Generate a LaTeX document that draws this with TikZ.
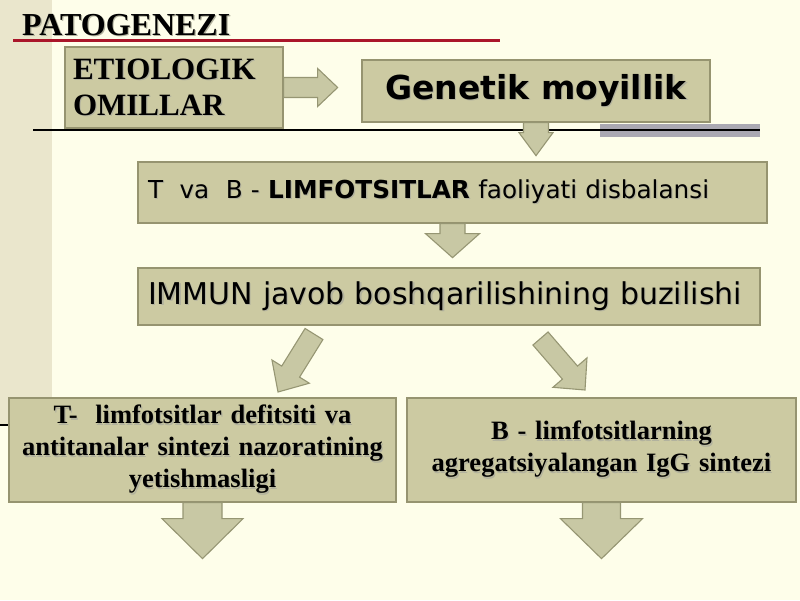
\documentclass[tikz,border=0pt]{standalone}
\usepackage{fontspec}
\setmainfont{Liberation Serif}
\newfontfamily\dvs{DejaVu Sans}
\usetikzlibrary{calc}
\definecolor{bgc}{RGB}{254,254,234}
\definecolor{stripc}{RGB}{234,230,204}
\definecolor{boxf}{RGB}{204,202,162}
\definecolor{boxd}{RGB}{150,148,112}
\definecolor{arrf}{RGB}{200,200,164}
\definecolor{arrd}{RGB}{150,150,115}
\definecolor{redl}{RGB}{170,22,42}
\definecolor{barg}{RGB}{170,168,178}
\definecolor{shadc}{RGB}{178,178,158}
\newcommand\shd[1]{\makebox[0pt][l]{\hspace{1.2pt}\raisebox{-1.2pt}{\color{shadc}#1}}#1}
\tikzset{
  box/.style={draw=boxd, fill=boxf, line width=1.3pt, inner sep=0pt},
  arrowshape/.style={draw=arrd, fill=arrf, line width=1.1pt, line join=miter},
  serifbig/.style={font=\bfseries\fontsize{31}{36}\selectfont},
  serifmid/.style={font=\bfseries\fontsize{26.5}{32}\selectfont},
}
\newcommand\blockarr[5]{%
  \coordinate (ba-s) at (#1);
  \coordinate (ba-e) at (#2);
  \coordinate (ba-h) at ($(ba-e)!#5pt!(ba-s)$);
  \filldraw[arrowshape] ($(ba-s)!#3pt!90:(ba-e)$) -- ($(ba-h)!#3pt!90:(ba-e)$)
    -- ($(ba-h)!#4pt!90:(ba-e)$) -- (ba-e) -- ($(ba-h)!#4pt!-90:(ba-e)$)
    -- ($(ba-h)!#3pt!-90:(ba-e)$) -- ($(ba-s)!#3pt!-90:(ba-e)$) -- cycle;
}
\begin{document}
\begin{tikzpicture}[x=1pt, y=-1pt]
\useasboundingbox (0,0) rectangle (800,600);
\fill[bgc] (0,0) rectangle (800,600);
\fill[stripc] (0,0) rectangle (52,425);
\draw[black, line width=2pt] (0,425) -- (30,425);
\fill[barg] (600,124) rectangle (760,137);
\draw[black, line width=1.3pt] (33,130) -- (760,130);
\draw[redl, line width=3pt] (13,40) -- (500,40);
\node[anchor=base west, inner sep=0pt, font=\bfseries\fontsize{32}{36}\selectfont] (title) at (22,35) {\shd{PATOGENEZI}};

\node[box, serifbig, minimum width=218pt, minimum height=81pt, text width=202pt, align=left] (etio) at (174,87.5) {\shd{ETIOLOGIK}\\\shd{OMILLAR}};
\node[box, minimum width=348pt, minimum height=62pt, font=\dvs\bfseries\fontsize{33}{38}\selectfont] (gen) at (536,91) {\shd{Genetik moyillik}};
\node[box, minimum width=629pt, minimum height=61pt, text width=609pt, align=left, font=\dvs\fontsize{24.7}{28}\selectfont] (tvb) at (452.5,192.5) {\shd{T\ \ va\ \ B - \textbf{LIMFOTSITLAR} faoliyati disbalansi}};
\node[box, minimum width=622pt, minimum height=57pt, text width=602pt, align=left, font=\dvs\fontsize{30}{34}\selectfont] (immun) at (449,296.5) {\shd{IMMUN javob boshqarilishining buzilishi}};
\node[box, serifmid, minimum width=387pt, minimum height=104pt, text width=380pt, align=center] (bl) at (202.5,450) {\shd{T-\ \ limfotsitlar defitsiti va}\\\shd{antitanalar sintezi nazoratining}\\\shd{yetishmasligi}};
\node[box, serifmid, minimum width=389pt, minimum height=104pt, text width=380pt, align=center] (br) at (601.5,450) {\shd{B - limfotsitlarning}\\\shd{agregatsiyalangan IgG sintezi}};

\blockarr{etio.east}{$(etio.east)+(54,0)$}{10}{19}{20}
\blockarr{gen.south}{$(gen.south)+(0,33)$}{12.5}{17}{23}
\blockarr{tvb.south}{$(tvb.south)+(0,34)$}{12.5}{27}{24}
\coordinate (dl1) at (314,334);
\coordinate (dl2) at (278,392);
\coordinate (dr1) at (540.5,338.5);
\coordinate (dr2) at (585,390);
\blockarr{dl1}{dl2}{10.5}{22}{24}
\blockarr{dr1}{dr2}{10}{22.5}{23}
\blockarr{bl.south}{$(bl.south)+(0,56)$}{19.5}{40.5}{40}
\blockarr{br.south}{$(br.south)+(0,56)$}{19}{41}{40}
\end{tikzpicture}
\end{document}
